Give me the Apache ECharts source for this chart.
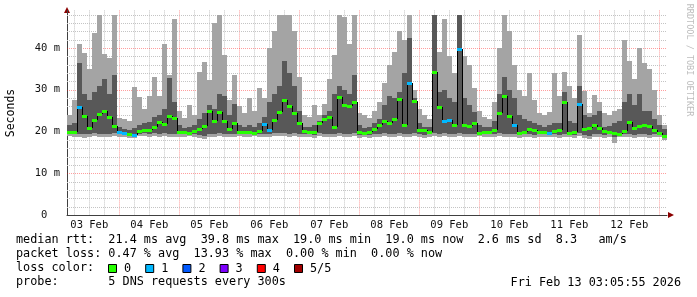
<!DOCTYPE html>
<html><head><meta charset="utf-8">
<script src="https://cdn.jsdelivr.net/npm/echarts@6/dist/echarts.min.js"></script>
<style>html,body{margin:0;padding:0;background:#fff}#c{width:697px;height:297px}</style>
</head><body><div id="c"></div>
<script>
// time base: hours since Feb 3 00:00; graph starts Feb 3 03:05, 2-hour bins
const startHour = 3 + 5 / 60;
const binHours = 2;
const spanHours = 240;
const dayLabels = ['03 Feb','04 Feb','05 Feb','06 Feb','07 Feb','08 Feb','09 Feb','10 Feb','11 Feb','12 Feb'];
const yTicks = [0, 10, 20, 30, 40];

// smoke: light band top (max ping) in ms
const hi = [
  24.0, 27.5, 41.0, 38.8, 35.0, 43.5, 48.0, 38.5, 37.5, 48.0, 23.3,
  23.0, 22.5, 30.7, 28.3, 25.5, 28.5, 33.0, 28.5, 41.0, 33.5, 47.0, 25.0,
  23.2, 26.3, 24.0, 34.3, 36.6, 32.3, 46.0, 48.0, 38.3, 27.5, 33.5, 26.0,
  24.5, 28.0, 25.0, 30.5, 28.0, 40.0, 44.0, 48.0, 48.0, 48.0, 44.0, 33.0,
  24.0, 23.5, 26.3, 24.0, 26.5, 32.5, 38.3, 48.0, 47.5, 41.0, 48.0, 24.5,
  24.0, 23.3, 25.0, 27.0, 31.5, 36.0, 39.0, 44.0, 42.0, 48.0, 30.0, 25.5,
  24.0, 23.0, 48.0, 39.0, 47.0, 38.0, 34.0, 48.0, 38.0, 36.0, 30.3, 25.0,
  23.5, 23.0, 27.0, 40.0, 48.0, 44.0, 36.0, 30.0, 28.5, 34.0, 27.5, 24.5,
  24.0, 24.7, 34.0, 28.4, 34.3, 31.0, 28.0, 43.0, 29.6, 24.5, 28.8, 27.0,
  24.5, 24.0, 25.0, 25.5, 42.0, 37.0, 32.5, 40.0, 36.5, 35.0, 30.0, 24.0, 21.6
];
// smoke: dark band top (inner ping pair) in ms
const hi2 = [
  21.5, 22.0, 36.5, 29.0, 27.5, 29.5, 31.0, 32.5, 29.0, 33.5, 21.0,
  20.6, 20.4, 20.8, 21.5, 22.0, 22.2, 23.5, 24.0, 25.5, 32.8, 27.0, 21.5,
  20.8, 21.0, 21.5, 23.0, 24.5, 26.3, 25.5, 29.0, 28.5, 24.0, 26.5, 21.5,
  21.0, 21.5, 21.0, 22.0, 23.5, 27.0, 29.0, 31.0, 37.0, 34.0, 31.0, 25.0,
  21.0, 21.0, 21.5, 22.5, 24.0, 25.0, 29.0, 31.0, 30.0, 29.0, 33.5, 21.5,
  20.8, 21.0, 22.0, 23.0, 26.3, 28.5, 28.0, 29.5, 34.0, 42.5, 28.0, 22.0,
  21.0, 21.0, 48.0, 29.5, 30.0, 28.0, 27.0, 48.0, 28.0, 26.3, 24.7, 21.5,
  21.0, 21.0, 22.5, 29.0, 33.0, 30.0, 28.0, 24.0, 23.0, 22.5, 22.0, 21.5,
  21.0, 21.5, 22.0, 22.0, 29.5, 22.5, 22.0, 31.0, 24.0, 23.5, 24.0, 25.0,
  21.0, 21.2, 22.0, 22.5, 27.0, 29.0, 26.3, 29.0, 25.0, 25.0, 23.0, 21.5, 20.5
];
// median rtt in ms
const median = [
  20.0, 19.8, 25.9, 23.8, 20.8, 22.7, 24.3, 24.8, 23.4, 21.3, 20.0,
  19.6, 19.4, 19.2, 20.2, 20.3, 20.4, 21.0, 22.3, 21.8, 23.8, 23.2, 20.0,
  19.8, 19.6, 20.2, 20.7, 21.2, 24.9, 22.4, 24.7, 22.6, 20.5, 22.0, 20.0,
  19.8, 20.0, 19.6, 20.2, 21.7, 20.3, 22.8, 24.6, 27.5, 26.0, 24.4, 22.0,
  20.2, 19.9, 20.0, 22.0, 23.0, 23.5, 21.0, 28.3, 26.3, 26.0, 27.1, 20.0,
  19.6, 20.0, 20.6, 21.5, 22.4, 22.0, 23.0, 27.8, 21.6, 31.7, 27.2, 20.3,
  20.4, 20.0, 34.3, 25.8, 22.6, 22.8, 21.5, 39.8, 21.6, 21.2, 22.0, 19.6,
  20.0, 20.0, 20.4, 24.4, 28.4, 23.6, 21.5, 19.6, 19.8, 20.6, 20.4, 20.0,
  19.8, 19.6, 20.2, 20.4, 27.1, 19.7, 19.8, 26.6, 20.6, 20.8, 21.6, 20.8,
  20.2, 20.0, 19.6, 19.4, 20.2, 22.2, 20.8, 21.2, 21.5, 21.4, 20.4, 19.6, 19.0
];
// smoke: dark band bottom in ms
const lo2 = [
  19.4, 19.3, 19.5, 19.3, 19.4, 19.6, 19.4, 19.5, 19.4, 19.6, 19.3,
  19.1, 19.0, 19.0, 19.5, 19.6, 19.5, 19.6, 19.4, 19.6, 19.5, 19.3, 19.4,
  19.4, 19.5, 19.3, 19.2, 19.0, 19.3, 19.5, 19.6, 19.4, 19.5, 19.3, 19.5,
  19.4, 19.3, 19.2, 19.4, 19.5, 19.3, 19.6, 19.7, 19.7, 19.5, 19.6, 19.4,
  19.3, 19.4, 19.2, 19.6, 19.4, 19.5, 19.3, 19.6, 19.5, 19.4, 19.6, 19.2,
  19.3, 19.1, 19.3, 19.5, 19.6, 19.4, 19.5, 19.6, 19.4, 19.5, 19.6, 19.3,
  19.2, 19.5, 19.6, 19.3, 19.6, 19.4, 19.5, 19.7, 19.3, 19.5, 19.4, 19.5,
  19.3, 19.5, 19.4, 19.6, 19.5, 19.3, 19.5, 19.2, 19.3, 19.5, 19.1, 19.4,
  19.5, 19.2, 19.4, 19.2, 19.5, 19.4, 19.2, 19.6, 19.1, 19.0, 19.3, 19.4,
  19.2, 19.3, 18.6, 19.3, 19.5, 19.4, 19.1, 19.3, 19.5, 19.2, 19.4, 19.3, 18.8
];
// smoke: light band bottom (min ping) in ms
const lo = [
  18.9, 18.6, 18.8, 18.5, 18.7, 18.9, 18.6, 18.8, 18.7, 18.9, 18.7,
  18.6, 18.4, 18.5, 18.9, 19.0, 18.8, 18.9, 18.7, 18.9, 18.8, 18.6, 18.8,
  18.7, 18.9, 18.6, 18.5, 18.1, 18.6, 18.8, 18.9, 18.7, 18.8, 18.6, 18.9,
  18.8, 18.6, 18.9, 18.7, 18.8, 18.6, 18.9, 19.0, 19.0, 18.8, 18.9, 18.7,
  18.6, 18.8, 18.5, 18.9, 18.7, 18.8, 18.6, 18.9, 18.8, 18.7, 18.9, 18.5,
  18.7, 18.4, 18.6, 18.8, 18.9, 18.7, 18.8, 18.9, 18.7, 18.8, 18.9, 18.6,
  18.5, 18.8, 18.9, 18.6, 18.9, 18.7, 18.8, 19.0, 18.6, 18.8, 18.7, 18.9,
  18.6, 18.8, 18.7, 18.9, 18.8, 18.6, 18.8, 18.5, 18.6, 18.8, 18.4, 18.7,
  18.8, 18.6, 18.7, 18.5, 18.8, 18.7, 18.5, 18.9, 18.4, 18.3, 18.6, 18.7,
  18.5, 18.6, 17.2, 18.6, 18.8, 18.7, 18.4, 18.6, 18.8, 18.5, 18.7, 18.6, 18.0
];
// lost pings per bin (of 5)
const loss = [
  0,0,1,0,0,0,0,0,0,0,1,
  1,0,1,0,0,0,0,0,0,0,0,0,
  0,0,0,0,0,0,0,0,0,0,0,0,
  0,0,0,0,1,1,0,0,0,0,0,0,
  0,0,0,0,0,0,0,0,0,0,0,0,
  0,0,0,0,0,0,0,0,0,1,0,0,
  0,0,0,0,1,1,0,1,0,0,0,0,
  0,0,0,0,0,0,1,0,0,0,0,0,
  0,1,0,0,0,0,0,1,0,0,0,0,
  0,0,0,0,0,0,0,0,0,0,0,0,0
];
const lossColors = ['#26ff00','#00b8ff','#0059ff','#7e00ff','#ff0000','#a00000'];
const lossLabels = ['0','1','2','3','4','5/5'];
const statLines = [
  'median rtt:  21.4 ms avg  39.8 ms max  19.0 ms min  19.0 ms now  2.6 ms sd  8.3   am/s',
  'packet loss: 0.47 % avg  13.93 % max  0.00 % min  0.00 % now',
  'loss color:',
  'probe:       5 DNS requests every 300s'
];
const stamp = 'Fri Feb 13 03:05:55 2026';
const yTitle = 'Seconds';
const watermark = 'RRDTOOL / TOBI OETIKER';

const MONO = "'DejaVu Sans Mono', monospace";
const rows = median.map((m, i) => [startHour + i * binHours, lo[i], lo2[i], m, hi2[i], hi[i], loss[i]]);

const gridRows = [];
for (let h = 6; h < startHour + spanHours; h += 6) if (h > startHour) gridRows.push([h, 0, h % 24 === 0 ? 1 : 0, 0]);
for (let v = 2; v <= 48; v += 2) gridRows.push([startHour, v, v % 10 === 0 ? 1 : 0, 1]);

function gridItem(params, api) {
  const cs = params.coordSys;
  const major = api.value(2) === 1, horiz = api.value(3) === 1;
  let shape;
  if (horiz) {
    const y = Math.round(api.coord([startHour, api.value(1)])[1]) + 0.5;
    shape = { x1: cs.x, y1: y, x2: cs.x + cs.width, y2: y };
  } else {
    const x = Math.round(api.coord([api.value(0), 0])[0]) + 0.5;
    shape = { x1: x, y1: cs.y, x2: x, y2: cs.y + cs.height };
  }
  return { type: 'line', shape, silent: true,
    style: { stroke: major ? 'rgba(255,0,0,0.38)' : '#c4c4c4', lineWidth: 1, lineDash: [1, 1] } };
}

function smokeItem(params, api) {
  const t = api.value(0);
  const L = api.coord([t, api.value(1)]), H = api.coord([t + binHours, api.value(5)]);
  const L2 = api.coord([t, api.value(2)]), H2 = api.coord([t + binHours, api.value(4)]);
  const x0 = Math.round(L[0]), x1 = Math.round(H[0]);
  const yl = Math.round(L[1]), yh = Math.round(H[1]), yl2 = Math.round(L2[1]), yh2 = Math.round(H2[1]);
  return { type: 'group', children: [
    { type: 'rect', shape: { x: x0, y: yh, width: x1 - x0, height: yl - yh }, style: { fill: '#a4a4a4' } },
    { type: 'rect', shape: { x: x0, y: yh2, width: x1 - x0, height: Math.max(1, yl2 - yh2) }, style: { fill: '#585858' } }
  ]};
}

function medianItem(params, api) {
  const i = params.dataIndex;
  const t = api.value(0), m = api.value(3);
  const prev = i > 0 ? median[i - 1] : m;
  const P = api.coord([t, m]), Q = api.coord([t + binHours, m]), R = api.coord([t, prev]);
  const x0 = Math.round(P[0]), x1 = Math.round(Q[0]);
  const y = Math.round(P[1]), yp = Math.round(R[1]);
  return { type: 'group', children: [
    { type: 'line', shape: { x1: x0 + 0.5, y1: yp, x2: x0 + 0.5, y2: y }, style: { stroke: '#000', lineWidth: 1 } },
    { type: 'rect', shape: { x: x0, y: y - 1, width: x1 - x0, height: 3 }, style: { fill: lossColors[api.value(6)] } }
  ]};
}

const chart = echarts.init(document.getElementById('c'), null, { renderer: 'canvas' });
const legendEls = [];
statLines.forEach((s, k) => legendEls.push({ type: 'text', left: 16, top: 241 + 14 * k - 7,
  style: { text: s, font: '11.8px ' + MONO, fill: '#000' } }));
lossColors.forEach((c, k) => {
  const bx = 108 + 37.2 * k;
  legendEls.push({ type: 'rect', shape: { x: bx + 0.5, y: 264.5, width: 8, height: 8 }, style: { fill: c, stroke: '#000', lineWidth: 1 } });
  legendEls.push({ type: 'text', x: bx + 16, y: 269, style: { text: lossLabels[k], font: '11.8px ' + MONO, fill: '#000', verticalAlign: 'middle' } });
});
legendEls.push({ type: 'text', x: 681, y: 283, style: { text: stamp, font: '11.8px ' + MONO, fill: '#000', align: 'right', verticalAlign: 'middle' } });
legendEls.push({ type: 'text', x: 11, y: 113, rotation: Math.PI / 2, style: { text: yTitle, font: '11.5px ' + MONO, fill: '#000', align: 'center', verticalAlign: 'middle' } });
legendEls.push({ type: 'text', x: 689, y: 60, rotation: -Math.PI / 2, style: { text: watermark, font: '8.5px ' + MONO, fill: '#bdbdbd', align: 'center', verticalAlign: 'middle' } });
legendEls.push({ type: 'polygon', shape: { points: [[64, 13], [67, 7], [70, 13]] }, style: { fill: '#8b0000' } });
legendEls.push({ type: 'polygon', shape: { points: [[668, 212], [674, 215], [668, 218]] }, style: { fill: '#8b0000' } });

chart.setOption({
  animation: false,
  backgroundColor: '#fff',
  grid: { left: 67, top: 215 - 49 * 4.175, width: 600, height: 49 * 4.175 },
  xAxis: {
    type: 'value', min: startHour, max: startHour + spanHours,
    axisLine: { show: true, lineStyle: { color: '#404040', width: 1 } },
    axisTick: { show: false },
    splitLine: { show: false },
    axisLabel: {
      customValues: dayLabels.map((d, k) => 12 + 24 * k),
      formatter: v => dayLabels[Math.round((v - 12) / 24)] || '',
      color: '#111', fontFamily: "'DejaVu Sans Mono'", fontSize: 10.5, margin: 5
    }
  },
  yAxis: {
    type: 'value', min: 0, max: 49, interval: 10,
    axisLine: { show: true, lineStyle: { color: '#404040', width: 1 } },
    axisTick: { show: false },
    splitLine: { show: false },
    axisLabel: {
      formatter: v => (yTicks.indexOf(v) < 0 ? '' : (v === 0 ? '0  ' : v + ' m')),
      color: '#111', fontFamily: "'DejaVu Sans Mono'", fontSize: 10.5, margin: 7
    }
  },
  series: [
    { type: 'custom', name: 'grid', data: gridRows, renderItem: gridItem, encode: { x: 0, y: 1 }, silent: true, z: 1 },
    { type: 'custom', name: 'smoke', data: rows, renderItem: smokeItem, encode: { x: 0, y: [1, 5] }, clip: true, silent: true, z: 2 },
    { type: 'custom', name: 'median', data: rows, renderItem: medianItem, encode: { x: 0, y: 3 }, clip: true, silent: true, z: 3 }
  ],
  graphic: { elements: legendEls }
});
</script></body></html>
